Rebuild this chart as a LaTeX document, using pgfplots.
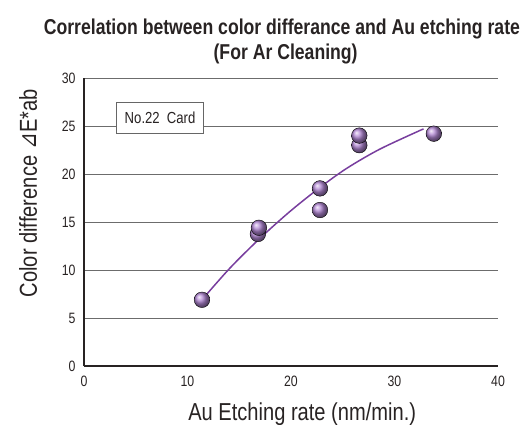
\documentclass[border=0pt]{standalone}
\usepackage{fontspec}
\setmainfont{Liberation Sans}[FakeStretch=0.82]
\newfontfamily\symfont{DejaVu Sans}[FakeStretch=0.82]
\usepackage{pgfplots}
\pgfplotsset{compat=1.18}
\definecolor{pp}{RGB}{120,62,158}
\definecolor{pball}{RGB}{178,135,212}
\definecolor{txt}{RGB}{40,35,35}
\begin{document}
\begin{tikzpicture}
\begin{axis}[
  scale only axis, width=414pt, height=288pt,
  xmin=0, xmax=40, ymin=0, ymax=30,
  xtick={0,10,20,30,40}, ytick={0,5,10,15,20,25,30},
  axis lines=left,
  axis line style={-, line width=2.2pt, color=txt},
  major tick length=0pt,
  ymajorgrids,
  grid style={color=gray!85!black, line width=0.8pt},
  /pgf/number format/assume math mode=true,
  tick label style={font=\fontsize{15}{15}\selectfont, color=txt},
  yticklabel style={xshift=-5pt},
  xticklabel style={yshift=-6pt},
  xlabel={Au Etching rate (nm/min.)},
  ylabel={Color difference\hspace{0.25em}{\symfont ⊿}E*ab},
  label style={font=\fontsize{24.5}{24.5}\selectfont, color=txt},
  xlabel style={at={(axis description cs:0.527,-0.1875)}, anchor=base},
  ylabel style={at={(axis description cs:-0.135,0.60)}, anchor=center, rotate=0},
  clip=false,
]
\addplot[pp, line width=1.5pt, smooth] coordinates {
  (11.4,6.9) (14.1,10.2) (17,13.3) (19.9,16.1) (22.8,18.6) (25.4,20.6) (28.6,22.6) (32.8,24.7)};
\addplot[only marks, mark=ball, mark size=7.8pt, mark options={ball color=pball}] coordinates {
  (11.4,6.9) (16.8,13.75) (16.9,14.4) (22.8,18.5) (22.8,16.25) (26.6,23.0) (26.6,24.0) (33.8,24.2)};
\node[draw=gray!80!black, fill=white, line width=0.6pt, font=\fontsize{16}{16}\selectfont, text=txt,
  minimum width=87pt, minimum height=31pt, inner sep=0pt] at (axis cs:7.35,25.9) {No.22\hspace{0.45em}Card};
\node[anchor=base, font=\bfseries\fontsize{21.5}{21.5}\selectfont, text=txt]
  at (axis description cs:0.478,{1+44/288}) {Correlation between color differance and Au etching rate};
\node[anchor=base, font=\bfseries\fontsize{21.5}{21.5}\selectfont, text=txt]
  at (axis description cs:0.487,{1+19/288}) {(For Ar Cleaning)};
\end{axis}
\pgfresetboundingbox
\path (-84pt,-58pt) rectangle (448pt,366pt);
\end{tikzpicture}
\end{document}
